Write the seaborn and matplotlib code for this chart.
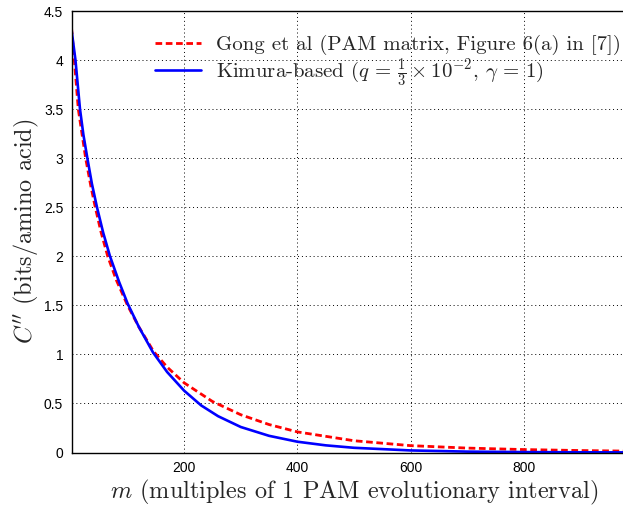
import numpy as np
import pandas as pd
import seaborn as sns
import matplotlib.pyplot as plt

# values
m_gong = [1, 6, 13, 20, 26, 35, 43, 53, 65, 80, 100, 120, 146, 170, 200, 250, 300, 350, 400, 500, 600, 700, 800, 900, 1000]
c_gong = [4.33, 4.0, 3.5, 3.23, 3.0, 2.72, 2.5, 2.25, 2.0, 1.76, 1.5, 1.28, 1.03, 0.87, 0.71, 0.52, 0.385, 0.285, 0.21, 0.12, 0.07, 0.045, 0.03, 0.02, 0.013]

m_kim = [1, 8, 16, 22, 29, 37, 46, 57, 69, 85, 100, 120, 145, 170, 200, 230, 260, 300, 350, 400, 450, 500, 600, 700, 800, 900, 1000]
c_kim = [4.31, 4.0, 3.5, 3.24, 3.0, 2.74, 2.5, 2.24, 2.0, 1.74, 1.52, 1.28, 1.02, 0.82, 0.63, 0.48, 0.37, 0.26, 0.17, 0.11, 0.073, 0.048, 0.021, 0.009, 0.004, 0.002, 0.001]

label_gong = "Gong et al (PAM matrix, Figure 6(a) in [7])"
label_kim = r"Kimura-based ($q\,=\,\frac{1}{3}\times10^{-2}$, $\gamma\,=\,1$)"

df_gong = pd.DataFrame({"m": m_gong, "C": c_gong})
df_kim = pd.DataFrame({"m": m_kim, "C": c_kim})

sns.set_style("white")
plt.rcParams["mathtext.fontset"] = "cm"
plt.rcParams["font.family"] = ["Liberation Sans", "DejaVu Sans"]

fig = plt.figure(figsize=(6.23, 5.07), dpi=100)
# axes runs past the right edge like in the reference crop
ax = fig.add_axes([71.5 / 623, 54.5 / 507, 565.5 / 623, 441.5 / 507])

sns.lineplot(data=df_gong, x="m", y="C", color="#ff0000", lw=2, ax=ax, label=label_gong)
ax.lines[-1].set_dashes((2.4, 1.3))
sns.lineplot(data=df_kim, x="m", y="C", color="#0000ff", lw=1.9, ax=ax, label=label_kim)

ax.set_xlim(1, 1000)
ax.set_ylim(0, 4.5)
ax.set_xticks([200, 400, 600, 800])
ax.set_yticks(np.arange(0, 4.51, 0.5))
ax.set_yticklabels(["0", "0.5", "1", "1.5", "2", "2.5", "3", "3.5", "4", "4.5"])
ax.tick_params(direction="in", length=4, width=0.8, labelsize=10, colors="black", pad=6)
ax.grid(True, color="black", linestyle=(0, (1, 3)), linewidth=0.7)

for s in ax.spines.values():
    s.set_color("black")
    s.set_linewidth(1.0)

ax.set_xlabel(r"$m$ (multiples of 1 PAM evolutionary interval)", family="cmr10", size=17.5, labelpad=2)
ax.set_ylabel(r"$C''$ (bits/amino acid)", family="cmr10", size=17.5, labelpad=2)

leg = ax.legend(loc="upper left", bbox_to_anchor=(147 / 623, 1 - 27 / 507), bbox_transform=fig.transFigure,
                frameon=False, prop={"family": "cmr10", "size": 15}, handlelength=2.2,
                handletextpad=0.7, labelspacing=0.05, borderaxespad=0)

fig.savefig("out.png", dpi=100)
